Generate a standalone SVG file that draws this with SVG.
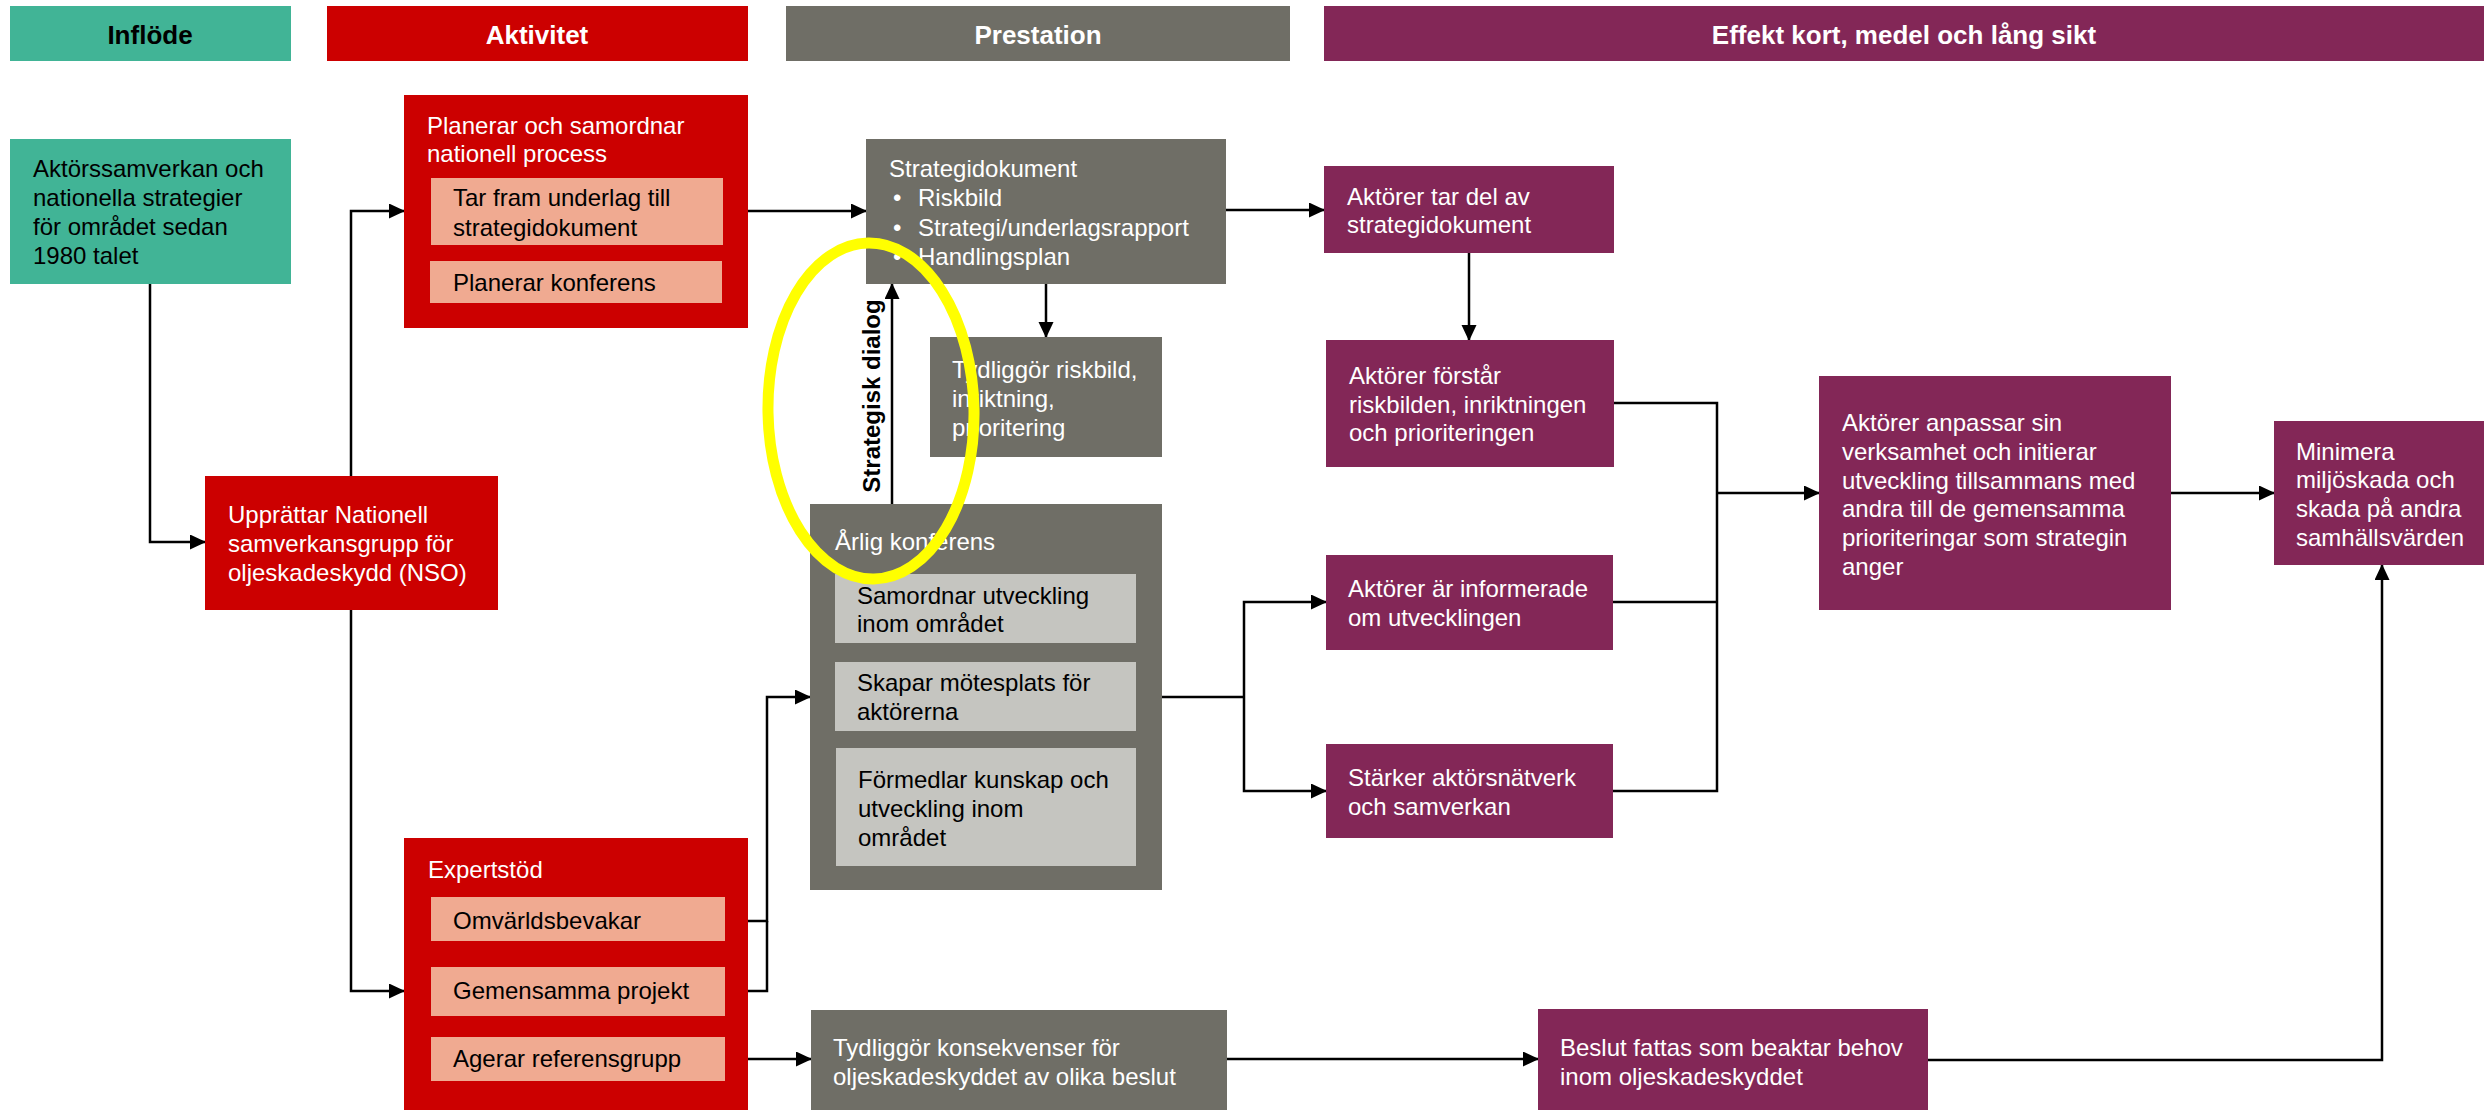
<svg xmlns="http://www.w3.org/2000/svg" width="2484" height="1110" viewBox="0 0 2484 1110">
<defs>
<marker id="ah" markerUnits="userSpaceOnUse" markerWidth="16" markerHeight="16" refX="15" refY="7.5" orient="auto">
<path d="M0,0 L16,7.5 L0,15 z" fill="#000"/>
</marker>
</defs>
<style>
text{font-family:"Liberation Sans",Arial,sans-serif;font-size:24px;fill:#fff}
.hd{font-size:26px;font-weight:bold;text-anchor:middle}
.dk{fill:#000}
.teal{fill:#41B496}
.red{fill:#CC0000}
.sal{fill:#F0AA91}
.gray{fill:#6F6E66}
.lg{fill:#C5C5C0}
.pur{fill:#832757}
.c{fill:none;stroke:#000;stroke-width:2.5}
.a{marker-end:url(#ah)}
</style>
<rect width="2484" height="1110" fill="#fff"/>

<g id="headers">
<rect class="teal" x="10" y="6" width="281" height="55"/>
<text class="hd dk" x="150" y="44">Inflöde</text>
<rect class="red" x="327" y="6" width="421" height="55"/>
<text class="hd" x="537" y="44">Aktivitet</text>
<rect class="gray" x="786" y="6" width="504" height="55"/>
<text class="hd" x="1038" y="44">Prestation</text>
<rect class="pur" x="1324" y="6" width="1160" height="55"/>
<text class="hd" x="1904" y="44">Effekt kort, medel och lång sikt</text>
</g>

<g id="connectors">
<path class="c a" d="M150 284 V542 H205"/>
<path class="c a" d="M351 600 V211 H404"/>
<path class="c a" d="M351 600 V991 H404"/>
<path class="c a" d="M748 211 H866"/>
<path class="c a" d="M1226 210 H1324"/>
<path class="c a" d="M1046 284 V337"/>
<path class="c a" d="M1469 253 V340"/>
<path class="c a" d="M892 504 V284"/>
<path class="c a" d="M725 921 H767 V697 H810"/>
<path class="c" d="M725 991 H767 V921"/>
<path class="c" d="M1162 697 H1244"/>
<path class="c a" d="M1244 697 V602 H1326"/>
<path class="c a" d="M1244 697 V791 H1326"/>
<path class="c" d="M1614 403 H1717 V791 H1613"/>
<path class="c" d="M1613 602 H1717"/>
<path class="c a" d="M1717 493 H1819"/>
<path class="c a" d="M2171 493 H2274"/>
<path class="c a" d="M725 1059 H811"/>
<path class="c a" d="M1227 1059 H1538"/>
<path class="c a" d="M1928 1060 H2382 V565"/>
</g>

<g id="n-aktorssamverkan">
<rect class="teal" x="10" y="139" width="281" height="145"/>
<text class="dk" x="33" y="177">Aktörssamverkan och</text>
<text class="dk" x="33" y="206">nationella strategier</text>
<text class="dk" x="33" y="235">för området sedan</text>
<text class="dk" x="33" y="264">1980 talet</text>
</g>

<g id="n-planerar">
<rect class="red" x="404" y="95" width="344" height="233"/>
<text x="427" y="134">Planerar och samordnar</text>
<text x="427" y="162">nationell process</text>
<rect class="sal" x="431" y="178" width="292" height="67"/>
<text class="dk" x="453" y="206">Tar fram underlag till</text>
<text class="dk" x="453" y="236">strategidokument</text>
<rect class="sal" x="430" y="261" width="292" height="42"/>
<text class="dk" x="453" y="291">Planerar konferens</text>
</g>

<g id="n-nso">
<rect class="red" x="205" y="476" width="293" height="134"/>
<text x="228" y="523">Upprättar Nationell</text>
<text x="228" y="552">samverkansgrupp för</text>
<text x="228" y="581">oljeskadeskydd (NSO)</text>
</g>

<g id="n-expertstod">
<rect class="red" x="404" y="838" width="344" height="272"/>
<text x="428" y="878">Expertstöd</text>
<rect class="sal" x="431" y="897" width="294" height="44"/>
<text class="dk" x="453" y="929">Omvärldsbevakar</text>
<rect class="sal" x="431" y="967" width="294" height="49"/>
<text class="dk" x="453" y="999">Gemensamma projekt</text>
<rect class="sal" x="431" y="1037" width="294" height="44"/>
<text class="dk" x="453" y="1067">Agerar referensgrupp</text>
</g>

<g id="n-strategidokument">
<rect class="gray" x="866" y="139" width="360" height="145"/>
<text x="889" y="177">Strategidokument</text>
<text x="893" y="206">•</text><text x="918" y="206">Riskbild</text>
<text x="893" y="236">•</text><text x="918" y="236">Strategi/underlagsrapport</text>
<text x="893" y="265">•</text><text x="918" y="265">Handlingsplan</text>
</g>

<g id="n-tydliggor-riskbild">
<rect class="gray" x="930" y="337" width="232" height="120"/>
<text x="952" y="378">Tydliggör riskbild,</text>
<text x="952" y="407">inriktning,</text>
<text x="952" y="436">prioritering</text>
</g>

<g id="n-arlig">
<rect class="gray" x="810" y="504" width="352" height="386"/>
<text x="835" y="550">Årlig konferens</text>
<rect class="lg" x="835" y="574" width="301" height="69"/>
<text class="dk" x="857" y="604">Samordnar utveckling</text>
<text class="dk" x="857" y="632">inom området</text>
<rect class="lg" x="835" y="662" width="301" height="69"/>
<text class="dk" x="857" y="691">Skapar mötesplats för</text>
<text class="dk" x="857" y="720">aktörerna</text>
<rect class="lg" x="836" y="748" width="300" height="118"/>
<text class="dk" x="858" y="788">Förmedlar kunskap och</text>
<text class="dk" x="858" y="817">utveckling inom</text>
<text class="dk" x="858" y="846">området</text>
</g>

<g id="n-tydliggor-konsekvenser">
<rect class="gray" x="811" y="1010" width="416" height="100"/>
<text x="833" y="1056">Tydliggör konsekvenser för</text>
<text x="833" y="1085">oljeskadeskyddet av olika beslut</text>
</g>

<g id="n-tar-del">
<rect class="pur" x="1324" y="166" width="290" height="87"/>
<text x="1347" y="205">Aktörer tar del av</text>
<text x="1347" y="233">strategidokument</text>
</g>

<g id="n-forstar">
<rect class="pur" x="1326" y="340" width="288" height="127"/>
<text x="1349" y="384">Aktörer förstår</text>
<text x="1349" y="413">riskbilden, inriktningen</text>
<text x="1349" y="441">och prioriteringen</text>
</g>

<g id="n-informerade">
<rect class="pur" x="1326" y="555" width="287" height="95"/>
<text x="1348" y="597">Aktörer är informerade</text>
<text x="1348" y="626">om utvecklingen</text>
</g>

<g id="n-starker">
<rect class="pur" x="1326" y="744" width="287" height="94"/>
<text x="1348" y="786">Stärker aktörsnätverk</text>
<text x="1348" y="815">och samverkan</text>
</g>

<g id="n-anpassar">
<rect class="pur" x="1819" y="376" width="352" height="234"/>
<text x="1842" y="431">Aktörer anpassar sin</text>
<text x="1842" y="460">verksamhet och initierar</text>
<text x="1842" y="489">utveckling tillsammans med</text>
<text x="1842" y="517">andra till de gemensamma</text>
<text x="1842" y="546">prioriteringar som strategin</text>
<text x="1842" y="575">anger</text>
</g>

<g id="n-minimera">
<rect class="pur" x="2274" y="421" width="210" height="144"/>
<text x="2296" y="460">Minimera</text>
<text x="2296" y="488">miljöskada och</text>
<text x="2296" y="517">skada på andra</text>
<text x="2296" y="546">samhällsvärden</text>
</g>

<g id="n-beslut">
<rect class="pur" x="1538" y="1009" width="390" height="101"/>
<text x="1560" y="1056">Beslut fattas som beaktar behov</text>
<text x="1560" y="1085">inom oljeskadeskyddet</text>
</g>

<g id="label-strategisk-dialog">
<text class="dk" transform="translate(880 396) rotate(-90)" text-anchor="middle" style="font-size:24px;font-weight:bold">Strategisk dialog</text>
</g>

<g id="highlight">
<ellipse cx="871" cy="411" rx="103" ry="168" fill="none" stroke="#FFFF00" stroke-width="11" transform="rotate(-1 871 411)"/>
</g>
</svg>
